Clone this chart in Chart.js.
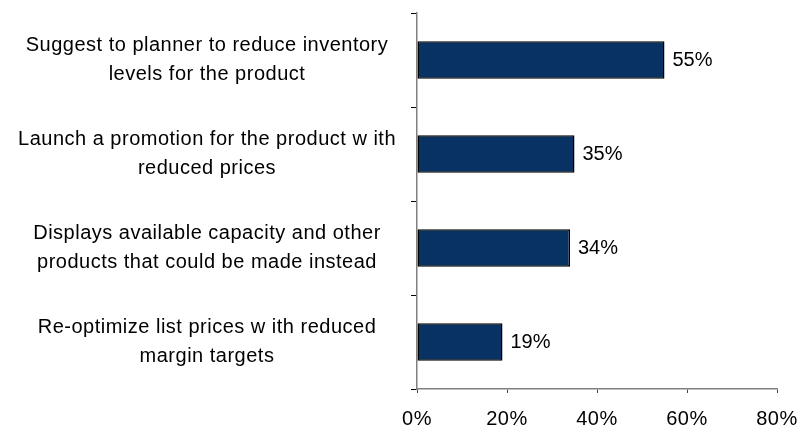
<!DOCTYPE html>
<html>
<head>
<meta charset="utf-8">
<script src="https://cdn.jsdelivr.net/npm/chart.js@4/dist/chart.umd.min.js"></script>
<style>
  html, body { margin: 0; padding: 0; background: #fff; }
  #wrap { width: 799px; height: 432px; position: relative; }
</style>
</head>
<body>
<div id="wrap"><canvas id="chart"></canvas></div>
<script>
// categories (multi-line labels as in the source slide)
const categories = [
    ["Suggest to planner to reduce inventory", "levels for the product"],
    ["Launch a promotion for the product w ith", "reduced prices"],
    ["Displays available capacity and other", "products that could be made instead"],
    ["Re-optimize list prices w ith reduced", "margin targets"]
];
const shares = [55, 35, 34, 19];
const xTicks = [0, 20, 40, 60, 80];

const FONT = "Arial, 'Liberation Sans', sans-serif";

// slide text is set a little looser than the canvas default
// (has to be set at draw time, a canvas resize resets the context state)
const looseText = {
    id: "looseText",
    beforeDraw(chart) { chart.ctx.letterSpacing = "0.5px"; }
};

// value labels next to each bar
const valueLabels = {
    id: "valueLabels",
    afterDatasetsDraw(chart) {
        const ctx = chart.ctx;
        const meta = chart.getDatasetMeta(0);
        ctx.save();
        ctx.letterSpacing = "0px";
        ctx.font = "20px " + FONT;
        ctx.fillStyle = "#000";
        ctx.textAlign = "left";
        ctx.textBaseline = "middle";
        meta.data.forEach((bar, i) => {
            ctx.fillText(shares[i] + "%", bar.x + 8, bar.y);
        });
        ctx.restore();
    }
};

new Chart(document.getElementById("chart"), {
    type: "bar",
    data: {
        labels: categories,
        datasets: [{
            data: shares,
            backgroundColor: "#073263",
            borderColor: "#000",
            borderWidth: 1.5,
            borderSkipped: false,
            barPercentage: 0.4,
            categoryPercentage: 1
        }]
    },
    options: {
        indexAxis: "y",
        responsive: true,
        maintainAspectRatio: false,
        animation: false,
        layout: { padding: { top: 13, right: 22, bottom: 0, left: 0 } },
        plugins: {
            legend: { display: false },
            tooltip: { enabled: false }
        },
        scales: {
            x: {
                min: 0,
                max: 80,
                afterBuildTicks: (scale) => { scale.ticks = xTicks.map(v => ({ value: v })); },
                afterFit: (scale) => {
                    scale.height = 43;
                    scale.paddingLeft = 0;
                    scale.paddingRight = 0;
                },
                grid: { drawOnChartArea: false, tickLength: 4, color: "#444" },
                border: { color: "#808080", width: 1.5 },
                ticks: {
                    color: "#000",
                    padding: 14,
                    font: { family: FONT, size: 20 },
                    callback: (v) => v + "%"
                }
            },
            y: {
                afterFit: (scale) => {
                    scale.width = 417;
                    scale.paddingTop = 0;
                    scale.paddingBottom = 0;
                },
                grid: { drawOnChartArea: false, offset: true, tickLength: 6, color: "#000" },
                border: { color: "#808080", width: 1.5 },
                ticks: {
                    color: "#000",
                    padding: 25,
                    crossAlign: "center",
                    font: { family: FONT, size: 20, lineHeight: 1.45 }
                }
            }
        }
    },
    plugins: [looseText, valueLabels]
});
</script>
</body>
</html>
